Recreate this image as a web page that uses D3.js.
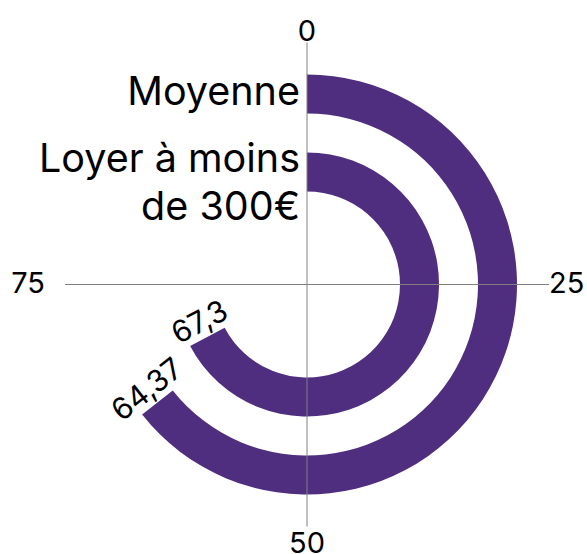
<!DOCTYPE html>
<html>
    <head>
        <meta charset="UTF-8" />
        <title>Loyer radial</title>
        <style>
            body { margin: 0; background: #fff; }
            text { font-family: Inter, "Noto Sans", sans-serif; fill: #000; }
        </style>
    </head>
    <body>
        <script src="https://cdn.jsdelivr.net/npm/d3@7"></script>
        <script type="text/javascript">
            // data
            var categories = ["Loyer à moins de 300€", "Moyenne"];
            var labelLines = [["Loyer à moins", "de 300€"], ["Moyenne"]];
            var values = [67.3, 64.37];
            var valueLabels = ["67,3", "64,37"];
            var ticks = [0, 25, 50, 75];

            var width = 587,
                height = 554,
                cx = 307,
                cy = 284.5;

            var svg = d3
                .select("body")
                .append("svg")
                .attr("width", width)
                .attr("height", height);

            var g = svg.append("g").attr("transform", "translate(" + cx + "," + cy + ")");

            var x = d3.scaleLinear().domain([0, 100]).range([0, 2 * Math.PI]);
            var y = d3.scaleBand().domain(categories).range([93, 210]).paddingInner(0.5);

            var arc = d3
                .arc()
                .innerRadius(function(d, i) { return y(categories[i]); })
                .outerRadius(function(d, i) { return y(categories[i]) + y.bandwidth(); })
                .startAngle(0)
                .endAngle(function(d) { return x(d); });

            // bars
            g.append("g")
                .selectAll("path")
                .data(values)
                .join("path")
                .attr("fill", "#4f2d7f")
                .attr("d", function(d, i) { return arc(d, i); });

            // axis cross
            var axisLen = 242;
            g.append("g")
                .attr("stroke", "#808080")
                .attr("stroke-width", 1)
                .selectAll("line")
                .data(ticks)
                .join("line")
                .attr("x1", 0)
                .attr("y1", 0)
                .attr("x2", function(d) { return axisLen * Math.sin(x(d)); })
                .attr("y2", function(d) { return -axisLen * Math.cos(x(d)); });

            // tick labels
            g.append("g")
                .style("font-size", "29px")
                .selectAll("text")
                .data(ticks)
                .join("text")
                .attr("x", function(d) {
                    var s = Math.round(Math.sin(x(d)));
                    return s > 0 ? axisLen : s < 0 ? -262 : 0;
                })
                .attr("y", function(d) {
                    var c = Math.round(Math.cos(x(d)));
                    return c > 0 ? -244 : c < 0 ? 268.5 : -1.5;
                })
                .attr("dy", function(d) { return Math.round(Math.sin(x(d))) !== 0 ? "0.35em" : null; })
                .attr("text-anchor", function(d) {
                    var s = Math.round(Math.sin(x(d)));
                    return s > 0 ? "start" : s < 0 ? "end" : "middle";
                })
                .text(function(d) { return d; });

            // category labels
            g.append("g")
                .style("font-size", "39.5px")
                .attr("text-anchor", "end")
                .selectAll("text")
                .data(categories)
                .join("text")
                .attr("y", function(d) { return -(y(d) + y.bandwidth() / 2); })
                .each(function(d, i) {
                    var lines = labelLines[i];
                    d3.select(this)
                        .selectAll("tspan")
                        .data(lines)
                        .join("tspan")
                        .attr("x", -7)
                        .attr("dy", function(l, j) {
                            return j === 0 ? (0.27 - 0.27 * (lines.length - 1)) + "em" : "1.22em";
                        })
                        .text(function(l) { return l; });
                });

            // value labels at bar ends, centred on the band
            g.append("g")
                .style("font-size", "30px")
                .attr("text-anchor", "middle")
                .selectAll("text")
                .data(values)
                .join("text")
                .attr("transform", function(d, i) {
                    var deg = (x(d) * 180) / Math.PI - 90;
                    var r = y(categories[i]) + y.bandwidth() / 2;
                    return "rotate(" + deg + ") translate(" + r + ",0) rotate(180)";
                })
                .attr("dy", "-0.22em")
                .text(function(d, i) { return valueLabels[i]; });
        </script>
    </body>
</html>
